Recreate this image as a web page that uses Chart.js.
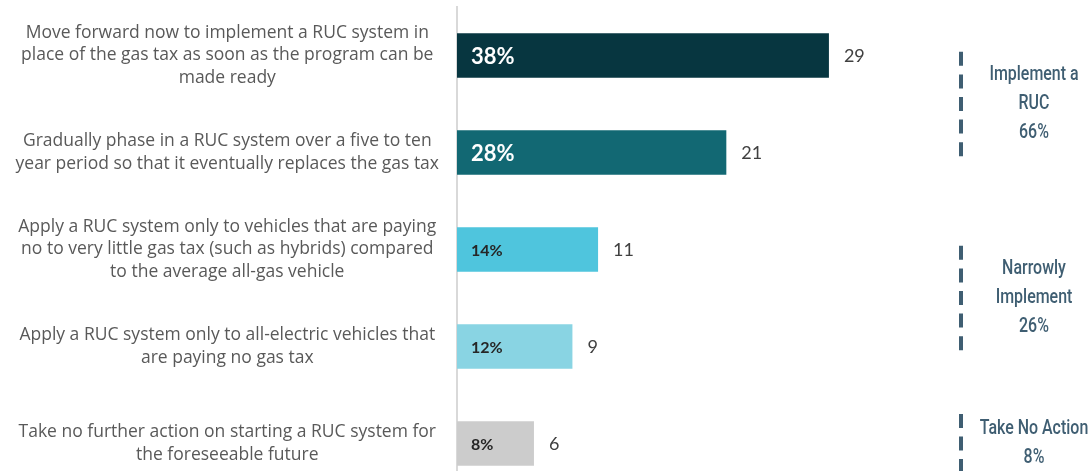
<!DOCTYPE html>
<html><head><meta charset="utf-8">
<script src="https://cdn.jsdelivr.net/npm/chart.js@4"></script>
<style>html,body{margin:0;padding:0;background:#fff;overflow:hidden}#wrap{width:1092px;height:471px;overflow:hidden;position:relative}canvas{display:block}</style>
</head><body><div id="wrap"><canvas id="c" width="1092" height="492"></canvas></div>
<script>
const categories = [
  ["Move forward now to implement a RUC system in","place of the gas tax as soon as the program can be","made ready"],
  ["Gradually phase in a RUC system over a five to ten","year period so that it eventually replaces the gas tax"],
  ["Apply a RUC system only to vehicles that are paying","no to very little gas tax (such as hybrids) compared","to the average all-gas vehicle"],
  ["Apply a RUC system only to all-electric vehicles that","are paying no gas tax"],
  ["Take no further action on starting a RUC system for","the foreseeable future"]
];
const counts = [29, 21, 11, 9, 6];
const percentLabels = ["38%", "28%", "14%", "12%", "8%"];
const barColors = ["#073640", "#126873", "#4fc5dd", "#89d4e3", "#cccccc"];
const groupLabels = [["Implement a","RUC","66%"], ["Narrowly","Implement","26%"], ["Take No Action","8%"]];
const groupRanges = [[0,1], [2,3], [4,4]];

const barLabelPlugin = {
  id: 'barLabels',
  afterDatasetsDraw(chart) {
    const ctx = chart.ctx;
    const meta = chart.getDatasetMeta(0);
    ctx.save();
    ctx.textAlign = 'left';
    ctx.textBaseline = 'middle';
    meta.data.forEach((bar, i) => {
      const big = i < 2;
      ctx.font = 'bold ' + (big ? 22 : 16) + 'px Lato';
      ctx.fillStyle = big ? '#ffffff' : '#262626';
      ctx.fillText(percentLabels[i], bar.base + 14, bar.y + 1);
      ctx.font = '18px Lato';
      ctx.fillStyle = '#404040';
      ctx.fillText(String(counts[i]), bar.x + 15, bar.y + 1);
    });
    ctx.restore();
  }
};

const groupPlugin = {
  id: 'groups',
  afterDraw(chart) {
    const ctx = chart.ctx;
    const y = chart.scales.y;
    const lineX = chart.chartArea.right - 9;
    const textX = chart.chartArea.right + 64;
    const dash = 14, gap = 8.6, lh = 29;
    ctx.save();
    groupRanges.forEach((r, i) => {
      const cy = (y.getPixelForValue(r[0]) + y.getPixelForValue(r[1])) / 2;
      const lines = groupLabels[i];
      const n = lines.length;
      const len = (2 * n - 1) * (dash + gap) - gap;
      ctx.strokeStyle = '#3f5e72';
      ctx.lineWidth = 4;
      ctx.setLineDash([dash, gap]);
      ctx.beginPath();
      ctx.moveTo(lineX, cy - len / 2);
      ctx.lineTo(lineX, cy + len / 2);
      ctx.stroke();
      ctx.setLineDash([]);
      ctx.fillStyle = '#3f5e72';
      ctx.font = '500 21px Roboto';
      ctx.textAlign = 'center';
      ctx.textBaseline = 'middle';
      lines.forEach((t, j) => {
        ctx.save();
        ctx.translate(textX, cy + (j - (n - 1) / 2) * lh);
        ctx.scale(0.76, 1);
        ctx.fillText(t, 0, 0);
        ctx.restore();
      });
    });
    ctx.restore();
  }
};

new Chart(document.getElementById('c'), {
  type: 'bar',
  data: {
    labels: categories,
    datasets: [{
      data: counts,
      backgroundColor: barColors,
      borderWidth: 0,
      categoryPercentage: 1,
      barPercentage: 0.46
    }]
  },
  options: {
    indexAxis: 'y',
    responsive: false,
    animation: false,
    devicePixelRatio: 1,
    layout: { padding: { top: 7, right: 122, bottom: 0, left: 0 } },
    plugins: { legend: { display: false }, tooltip: { enabled: false } },
    scales: {
      x: { display: false, min: 0, max: 40 },
      y: {
        grid: { display: false },
        border: { display: true, color: '#d9d9d9', width: 2 },
        ticks: {
          crossAlign: 'center',
          padding: 10,
          color: '#595959',
          font: { family: 'Open Sans', size: 17.5, lineHeight: 1.26 }
        },
        afterFit(s) { s.width = 457; s.paddingTop = 0; s.paddingBottom = 0; }
      }
    }
  },
  plugins: [barLabelPlugin, groupPlugin]
});
</script>
</body></html>
